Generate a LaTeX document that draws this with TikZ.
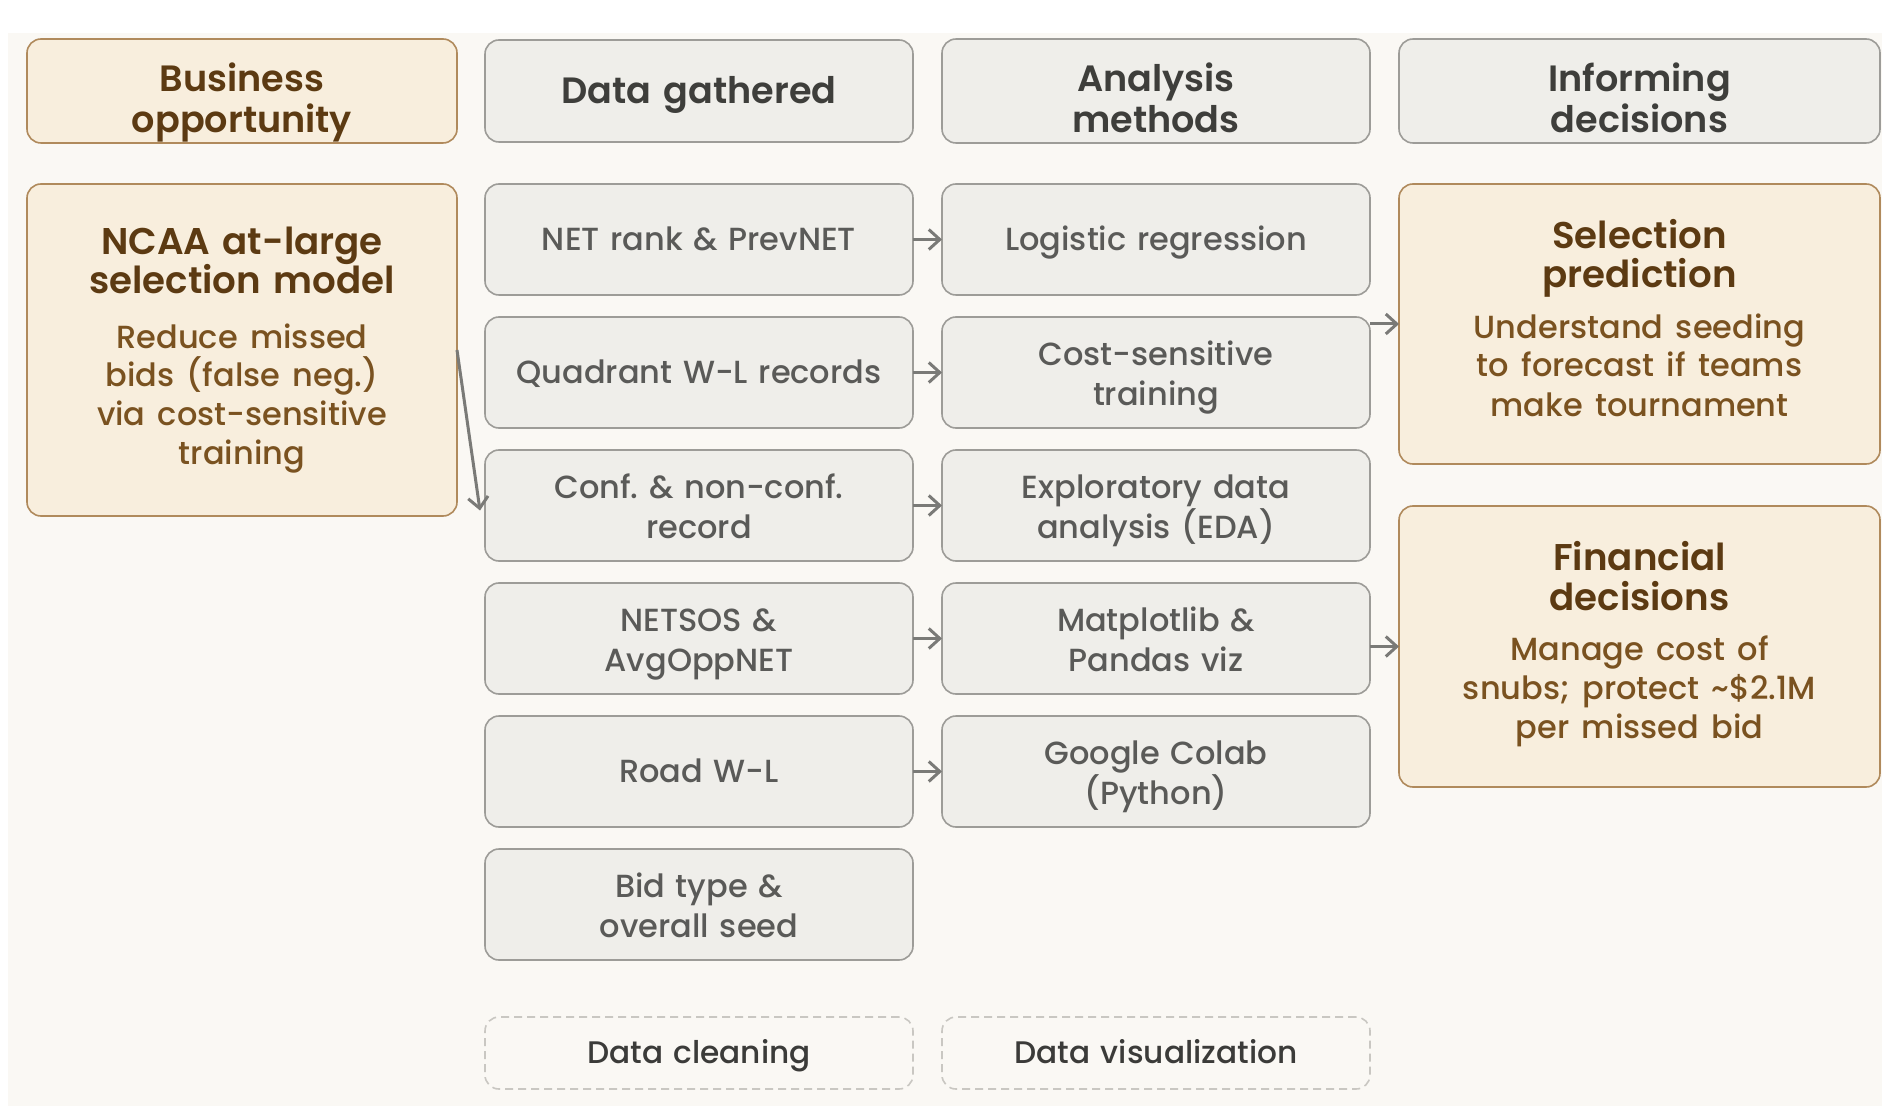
\documentclass[tikz,border=0pt]{standalone}
\usepackage{fontspec}
\setmainfont{Poppins}[WordSpace=0.8]
\newfontfamily\medfont{Poppins Medium}[WordSpace=0.8]
\newfontfamily\semifont{Poppins SemiBold}[WordSpace=0.85]
\usetikzlibrary{arrows.meta}
\frenchspacing
\definecolor{panel}{HTML}{FAF8F4}
\definecolor{bfill}{HTML}{F8EEDD}
\definecolor{bdraw}{HTML}{B08A5C}
\definecolor{btitle}{HTML}{5C3A12}
\definecolor{bsub}{HTML}{7A5220}
\definecolor{gfill}{HTML}{EFEEEA}
\definecolor{gdraw}{HTML}{9D9C98}
\definecolor{gtext}{HTML}{5A5A58}
\definecolor{ghtext}{HTML}{3E3E3B}
\definecolor{arrc}{HTML}{7A7A77}
\definecolor{ddraw}{HTML}{C9C7C2}
\definecolor{dtext}{HTML}{3B3B39}
\newcommand{\bodyfs}{\medfont\fontsize{16}{20.4}\selectfont\frenchspacing\lineskiplimit=-100pt\lineskip=0pt\relax}
\newcommand{\dashfs}{\medfont\fontsize{15.6}{20.4}\selectfont\frenchspacing\lineskiplimit=-100pt\lineskip=0pt\relax}
\newcommand{\subfs}{\medfont\fontsize{16}{19.2}\selectfont\frenchspacing\lineskiplimit=-100pt\lineskip=0pt\relax}
\newcommand{\headfs}{\semifont\fontsize{18.3}{20.4}\selectfont\frenchspacing\lineskiplimit=-100pt\lineskip=0pt\relax}
\newcommand{\titlefs}{\semifont\fontsize{18.6}{19.8}\selectfont\frenchspacing\lineskiplimit=-100pt\lineskip=0pt\relax}
\newcommand{\topst}[1]{\rule[-0.3em]{0pt}{\dimexpr1.3em+#1\relax}}
\newcommand{\botst}[1]{\rule[-\dimexpr0.3em+#1\relax]{0pt}{\dimexpr1.3em+#1\relax}}
\tikzset{
  anybox/.style={rounded corners=7pt, line width=0.8pt, inner sep=0pt, outer sep=0pt, align=center},
  gbox/.style={anybox, draw=gdraw, fill=gfill, text=gtext, font=\bodyfs, minimum width=214pt, minimum height=55.5pt, text width=208pt,
    execute at begin node=\topst{0pt}, execute at end node=\botst{0pt}},
  gbox2/.style={gbox, execute at begin node=\topst{1.8pt}},
  ghead/.style={anybox, draw=gdraw, fill=gfill, text=ghtext, font=\headfs, minimum height=51pt,
    execute at begin node=\topst{0pt}, execute at end node=\botst{0pt}},
  ghead2/.style={ghead, execute at begin node=\topst{7.8pt}},
  bhead2/.style={ghead2, draw=bdraw, fill=bfill, text=btitle},
  bbox/.style={anybox, draw=bdraw, fill=bfill, font=\titlefs,
    execute at begin node=\topst{0pt}, execute at end node=\botst{#1}},
  dbox/.style={anybox, draw=ddraw, dash pattern=on 4pt off 2.5pt, text=dtext, font=\dashfs, minimum width=214pt, minimum height=36pt, text width=208pt,
    execute at begin node=\topst{0pt}, execute at end node=\botst{0pt}},
  arr/.style={draw=arrc, line width=1.5pt, -{Straight Barb[length=5.5pt,width=10pt]}},
}
\newcommand{\btwo}[3]{{\titlefs\color{btitle}#2\par}\vspace{#1}{\subfs\color{bsub}#3}}
\begin{document}
\begin{tikzpicture}[x=0.5pt,y=-0.5pt]
\useasboundingbox (0,0) rectangle (1882,1106);
\fill[white] (0,0) rectangle (1882,1106);
\fill[panel] (8,33) rectangle (1882,1106);
% headers
\node[bhead2, minimum width=215pt, text width=209pt] (hbiz) at (242,91) {Business\\opportunity};
\node[ghead, minimum width=214pt, text width=208pt] (hdata) at (699,91) {Data gathered};
\node[ghead2, minimum width=214pt, text width=208pt] (hana) at (1156,91) {Analysis\\methods};
\node[ghead2, minimum width=240.5pt, text width=234pt] (hinf) at (1639.5,91) {Informing\\decisions};
% column 1
\node[bbox=3.6pt, minimum width=215pt, minimum height=166pt, text width=209pt] (ncaa) at (242,350)
  {\btwo{8pt}{NCAA at-large\\selection model}{Reduce missed\\bids (false neg.)\\via cost-sensitive\\training}};
% column 2
\node[gbox] (net) at (699,239.5) {NET rank \& PrevNET};
\node[gbox] (quad) at (699,372.5) {Quadrant W-L records};
\node[gbox2] (conf) at (699,505.5) {Conf. \& non-conf.\\record};
\node[gbox2] (sos) at (699,638.5) {NETSOS \&\\AvgOppNET};
\node[gbox] (road) at (699,771.5) {Road W-L};
\node[gbox2] (bid) at (699,904.5) {Bid type \&\\overall seed};
% column 3
\node[gbox] (logit) at (1156,239.5) {Logistic regression};
\node[gbox2] (cost) at (1156,372.5) {Cost-sensitive\\training};
\node[gbox2] (eda) at (1156,505.5) {Exploratory data\\analysis (EDA)};
\node[gbox2] (mpl) at (1156,638.5) {Matplotlib \&\\Pandas viz};
\node[gbox2] (colab) at (1156,771.5) {Google Colab\\(Python)};
% column 4
\node[bbox=4.8pt, minimum width=240.5pt, minimum height=140pt, text width=234pt] (sel) at (1639.5,324)
  {\btwo{6.2pt}{Selection\\prediction}{Understand seeding\\to forecast if teams\\make tournament}};
\node[bbox=4.8pt, minimum width=240.5pt, minimum height=140.5pt, text width=234pt] (fin) at (1639.5,646.5)
  {\btwo{6.2pt}{Financial\\decisions}{Manage cost of\\snubs; protect \textasciitilde\$2.1M\\per missed bid}};
% dashed
\node[dbox] (clean) at (699,1053) {Data cleaning};
\node[dbox] (viz) at (1156,1053) {Data visualization};
% arrows
\draw[arr] (net.east) -- (logit.west);
\draw[arr] (quad.east) -- (cost.west);
\draw[arr] (conf.east) -- (eda.west);
\draw[arr] (sos.east) -- (mpl.west);
\draw[arr] (road.east) -- (colab.west);
\draw[arr] (sel.west -| cost.east) -- (sel.west);
\draw[arr] (fin.west -| mpl.east) -- (fin.west);
\draw[arr] (ncaa.east) -- ([shift={(-5,5)}]conf.west);
\end{tikzpicture}
\end{document}
